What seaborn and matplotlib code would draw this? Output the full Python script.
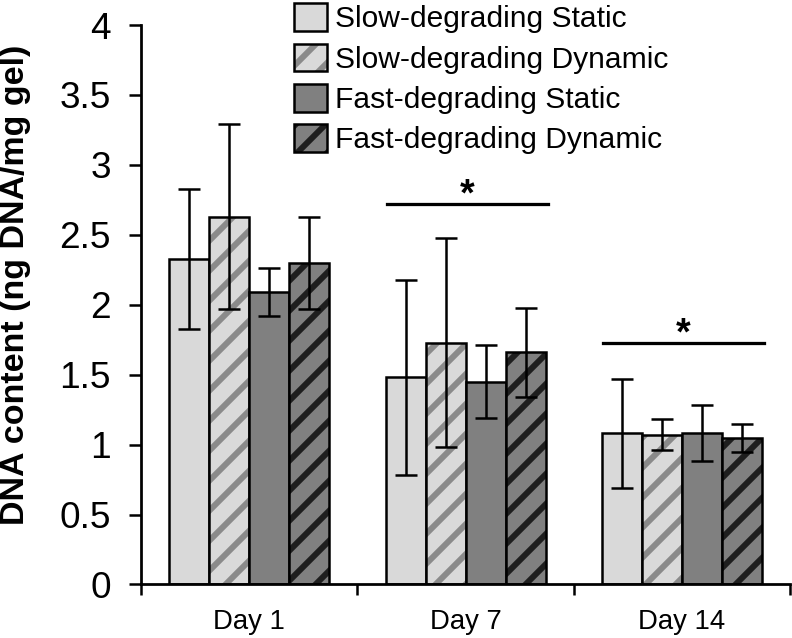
import numpy as np
import pandas as pd
import matplotlib
matplotlib.use("Agg")
import matplotlib.pyplot as plt
import matplotlib.patches as mpatches
from matplotlib.colors import to_rgba
import seaborn as sns

# Data
days = ["Day 1", "Day 7", "Day 14"]
groups = ["Slow-degrading Static", "Slow-degrading Dynamic",
          "Fast-degrading Static", "Fast-degrading Dynamic"]
slow_static = [2.33, 1.48, 1.08]
slow_dynamic = [2.63, 1.73, 1.07]
fast_static = [2.09, 1.45, 1.08]
fast_dynamic = [2.30, 1.66, 1.05]
slow_static_err = [0.50, 0.70, 0.39]
slow_dynamic_err = [0.66, 0.75, 0.11]
fast_static_err = [0.17, 0.26, 0.20]
fast_dynamic_err = [0.33, 0.32, 0.10]
# significance bars: day index, height
sig_days = [1, 2]
sig_heights = [2.72, 1.73]

means = [slow_static, slow_dynamic, fast_static, fast_dynamic]
errs = [slow_static_err, slow_dynamic_err, fast_static_err, fast_dynamic_err]

df = pd.DataFrame({
    "day": days * 4,
    "group": [g for g in groups for _ in days],
    "value": [v for m in means for v in m],
})

face = ["#d9d9d9", "#d9d9d9", "#808080", "#808080"]
stripe = [None, "#8a8a8a", None, "#1e1e1e"]

DPI = 180
plt.rcParams["font.family"] = ["Liberation Sans", "DejaVu Sans"]
plt.rcParams["hatch.linewidth"] = 2.4

fig = plt.figure(figsize=(792 / DPI, 638 / DPI), dpi=DPI)
ax = fig.add_axes([0.178, 0.0839, 0.8197, 0.8769])

sns.barplot(data=df, x="day", y="value", hue="group", order=days,
            hue_order=groups, palette=face, width=0.74, gap=0,
            errorbar=None, edgecolor="black", linewidth=1.0,
            legend=False, ax=ax)

bar_containers = list(ax.containers)
for i, cont in enumerate(bar_containers):
    for j, bar in enumerate(cont.patches):
        if stripe[i] is not None:
            bar.set_hatch("//")
            bar._hatch_color = to_rgba(stripe[i])
        cx = bar.get_x() + bar.get_width() / 2
        ax.errorbar(cx, means[i][j], yerr=errs[i][j], fmt="none",
                    ecolor="black", elinewidth=1.0, capsize=4.4,
                    capthick=1.0)

for d, h in zip(sig_days, sig_heights):
    ax.plot([d - 0.365, d + 0.38], [h, h], color="black", lw=1.3)
    ax.text(d + 0.005, h - 0.07, "*", ha="center", va="bottom",
            fontsize=15, fontweight="bold")

ax.set_xlim(-0.5, 2.5)
ax.set_ylim(0, 4)
ax.set_yticks(np.arange(0, 4.01, 0.5))
ax.set_yticklabels(["0", "0.5", "1", "1.5", "2", "2.5", "3", "3.5", "4"])
ax.set_xticks([-0.5, 0.5, 1.5, 2.5])
ax.set_xticklabels([])
ax.set_xticks([0, 1, 2], minor=True)
ax.set_xticklabels(days, minor=True)
ax.tick_params(axis="x", which="major", length=4.5, width=1, direction="out")
ax.tick_params(axis="x", which="minor", length=0, pad=10, labelsize=11)
ax.tick_params(axis="y", length=5, width=1, direction="out", pad=7,
               labelsize=14.8)
ax.set_xlabel("")
ax.set_ylabel("DNA content (ng DNA/mg gel)", fontsize=13.6,
              fontweight="bold")
ax.yaxis.set_label_coords(-0.17, 0.535)
for s in ["top", "right"]:
    ax.spines[s].set_visible(False)
for s in ["left", "bottom"]:
    ax.spines[s].set_linewidth(1.1)

handles = []
for i, g in enumerate(groups):
    p = mpatches.Patch(facecolor=face[i], edgecolor="black", linewidth=1.0,
                       hatch="//" if stripe[i] else None, label=g)
    handles.append(p)
leg = fig.legend(handles=handles, loc="upper left",
                 bbox_to_anchor=(0.371, 0.995), frameon=False, fontsize=12,
                 handlelength=1.1, handleheight=1.05, labelspacing=0.34,
                 handletextpad=0.27, borderpad=0, borderaxespad=0)
for i, p in enumerate(leg.get_patches()):
    if stripe[i] is not None:
        p._hatch_color = to_rgba(stripe[i])

fig.savefig("out.png", dpi=DPI)
